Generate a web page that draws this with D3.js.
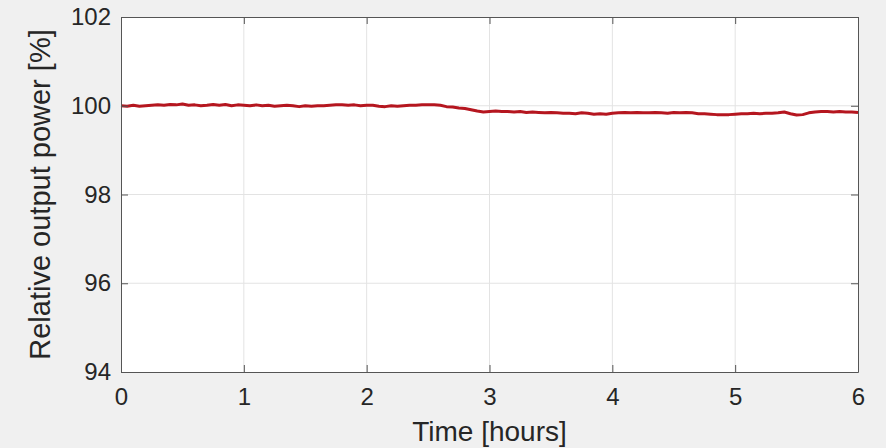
<!DOCTYPE html>
<html>
<head>
<meta charset="utf-8">
<script src="https://cdn.jsdelivr.net/npm/d3@7"></script>
<style>
  html, body { margin: 0; padding: 0; background: #f0f0f0; overflow: hidden; }
  svg { display: block; }
  svg text { font-family: "Liberation Sans", Arial, sans-serif; fill: #262626; }
</style>
</head>
<body>
<svg id="chart"></svg>
<script>
const width = 886;
const height = 448;
const margin = { top: 17, right: 28, bottom: 76, left: 121 };

const sampleStep = 0.05;
const powerValues = [
  100.00, 99.99, 100.01, 99.99, 100.00, 100.01, 100.02, 100.01, 100.03, 100.02,
  100.04, 100.01, 100.02, 100.00, 100.01, 100.03, 100.01, 100.03, 100.00, 100.02,
  100.01, 100.00, 100.02, 100.00, 100.01, 99.99, 100.00, 100.01, 100.00, 99.98,
  100.00, 99.99, 100.00, 100.00, 100.01, 100.02, 100.02, 100.01, 100.02, 100.00,
  100.01, 100.01, 99.99, 99.98, 100.00, 99.99, 100.00, 100.01, 100.01, 100.02,
  100.02, 100.02, 100.01, 99.98, 99.97, 99.95, 99.94, 99.91, 99.88, 99.86,
  99.87, 99.88, 99.87, 99.87, 99.86, 99.87, 99.85, 99.86, 99.85, 99.84,
  99.85, 99.84, 99.83, 99.83, 99.82, 99.84, 99.83, 99.81, 99.82, 99.81,
  99.83, 99.84, 99.85, 99.84, 99.85, 99.84, 99.84, 99.85, 99.84, 99.83,
  99.85, 99.84, 99.85, 99.84, 99.82, 99.82, 99.81, 99.80, 99.80, 99.80,
  99.81, 99.82, 99.82, 99.83, 99.82, 99.83, 99.83, 99.84, 99.86, 99.82,
  99.79, 99.80, 99.84, 99.86, 99.87, 99.87, 99.86, 99.87, 99.86, 99.86,
  99.85
];
const xTicks = [0, 1, 2, 3, 4, 5, 6];
const yTicks = [94, 96, 98, 100, 102];

const lineColor = "#b5161f";
const gridColor = "#e3e3e3";
const axisColor = "#555555";
const tickLength = 7;

const svg = d3.select("#chart").attr("width", width).attr("height", height);

const innerWidth = width - margin.left - margin.right;
const innerHeight = height - margin.top - margin.bottom;

const x = d3.scaleLinear().domain([0, 6]).range([margin.left, margin.left + innerWidth]);
const y = d3.scaleLinear().domain([94, 102]).range([margin.top + innerHeight, margin.top]);

// Plot background
svg.append("rect")
  .attr("x", x(0)).attr("y", y(102))
  .attr("width", innerWidth).attr("height", innerHeight)
  .attr("fill", "#ffffff");

// Grid lines
svg.append("g")
  .selectAll("line")
  .data(xTicks.slice(1, -1))
  .join("line")
  .attr("x1", d => x(d)).attr("x2", d => x(d))
  .attr("y1", y(94)).attr("y2", y(102))
  .attr("stroke", gridColor).attr("stroke-width", 1);

svg.append("g")
  .selectAll("line")
  .data(yTicks.slice(1, -1))
  .join("line")
  .attr("x1", x(0)).attr("x2", x(6))
  .attr("y1", d => y(d)).attr("y2", d => y(d))
  .attr("stroke", gridColor).attr("stroke-width", 1);

// Data line
const data = powerValues.map((v, i) => ({ t: i * sampleStep, v: v }));
const line = d3.line().x(d => x(d.t)).y(d => y(d.v));
svg.append("path")
  .datum(data)
  .attr("d", line)
  .attr("fill", "none")
  .attr("stroke", lineColor)
  .attr("stroke-width", 3)
  .attr("stroke-linejoin", "round");

// Axes (ticks pointing inward, box on all sides)
const styleAxis = g => {
  g.select(".domain").attr("stroke", axisColor);
  g.selectAll(".tick line").attr("stroke", axisColor);
  g.selectAll(".tick text").attr("font-size", 24).attr("fill", "#262626")
    .attr("font-family", "'Liberation Sans', Arial, sans-serif");
};

svg.append("g")
  .attr("transform", `translate(0, ${y(94)})`)
  .call(d3.axisBottom(x).tickValues(xTicks).tickFormat(d3.format("d"))
    .tickSize(-tickLength).tickSizeOuter(0).tickPadding(16))
  .call(styleAxis);

// Mirror axes on top and right carry only tick marks
svg.append("g")
  .attr("transform", `translate(0, ${y(102)})`)
  .call(d3.axisTop(x).tickValues(xTicks).tickSize(-tickLength).tickSizeOuter(0))
  .call(styleAxis)
  .call(g => g.selectAll(".tick text").remove());

svg.append("g")
  .attr("transform", `translate(${x(0)}, 0)`)
  .call(d3.axisLeft(y).tickValues(yTicks).tickSize(-tickLength).tickSizeOuter(0).tickPadding(10))
  .call(styleAxis);

svg.append("g")
  .attr("transform", `translate(${x(6)}, 0)`)
  .call(d3.axisRight(y).tickValues(yTicks).tickSize(-tickLength).tickSizeOuter(0))
  .call(styleAxis)
  .call(g => g.selectAll(".tick text").remove());

// Axis labels
svg.append("text")
  .attr("x", (x(0) + x(6)) / 2)
  .attr("y", 441)
  .attr("text-anchor", "middle")
  .attr("font-size", 28)
  .text("Time [hours]");

svg.append("text")
  .attr("transform", `translate(50, ${(y(94) + y(102)) / 2}) rotate(-90)`)
  .attr("text-anchor", "middle")
  .attr("font-size", 29)
  .text("Relative output power [%]");
</script>
</body>
</html>
